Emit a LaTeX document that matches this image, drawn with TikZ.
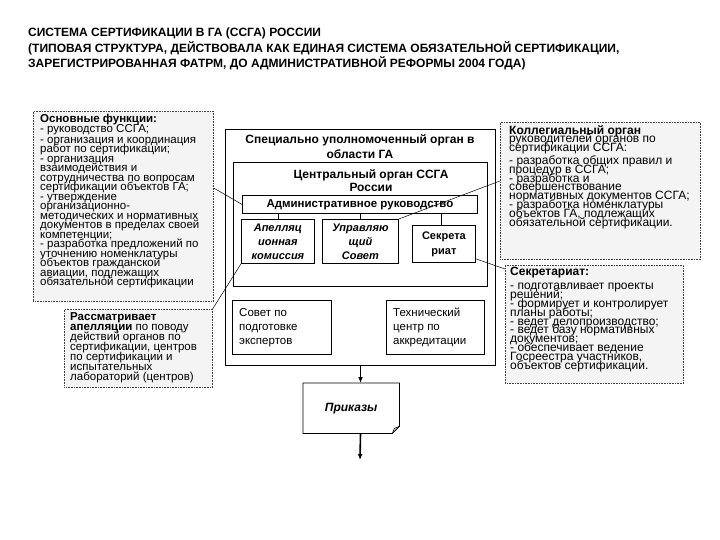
\documentclass[tikz,border=0pt]{standalone}
\usepackage{fontspec}
\setmainfont{Liberation Sans}
\usetikzlibrary{arrows.meta,positioning,calc}

\newcommand{\tightlead}{\lineskiplimit=-50pt\lineskip=0pt}

\begin{document}
\begin{tikzpicture}[
    x=1pt, y=-1pt,
    notebox/.style={rectangle, draw=black!75, densely dotted, line width=0.6pt, fill=gray!9, anchor=north west, inner sep=0pt},
    unitbox/.style={rectangle, draw=black, fill=white, line width=0.8pt, anchor=north west, inner sep=0pt},
    notetext/.style={anchor=north west, align=left, inner sep=0pt, font=\fontsize{11.5}{9.5}\selectfont\tightlead},
    unittext/.style={align=center, inner sep=0pt, font=\bfseries\fontsize{11.5}{15}\selectfont},
    link/.style={draw=black, line width=0.5pt},
    flow/.style={-{Latex[length=6pt,width=5pt]}, line width=1.6pt}
]

\useasboundingbox[fill=white] (0,0) rectangle (720,540);

% Title
\node[anchor=north west, align=left, inner sep=0pt, font=\bfseries\fontsize{12}{15.5}\selectfont] (title) at (28,28)
  {СИСТЕМА СЕРТИФИКАЦИИ В ГА (ССГА) РОССИИ\\
   (ТИПОВАЯ СТРУКТУРА, ДЕЙСТВОВАЛА КАК ЕДИНАЯ СИСТЕМА ОБЯЗАТЕЛЬНОЙ СЕРТИФИКАЦИИ,\\
   ЗАРЕГИСТРИРОВАННАЯ ФАТРМ, ДО АДМИНИСТРАТИВНОЙ РЕФОРМЫ 2004 ГОДА)};

% Left notes
\node[notebox, minimum width=180, minimum height=190] (func) at (33,111) {};
\node[notetext] (functext) at (40,114)
  {\textbf{Основные функции:}\\
   - руководство ССГА;\\[1.5pt]
   - организация и координация\\
   работ по сертификации;\\
   - организация\\
   взаимодействия и\\
   сотрудничества по вопросам\\
   сертификации объектов ГА;\\
   - утверждение\\
   организационно-\\
   методических и нормативных\\
   документов в пределах своей\\
   компетенции;\\
   - разработка предложений по\\
   уточнению номенклатуры\\
   объектов гражданской\\
   авиации, подлежащих\\
   обязательной сертификации};

\node[notebox, minimum width=148, minimum height=78] (appeal) at (64,309) {};
\node[notetext, font=\fontsize{11.5}{10.1}\selectfont\tightlead] (appealtext) at (70,312)
  {\textbf{Рассматривает}\\
   \textbf{апелляции} по поводу\\
   действий органов по\\
   сертификации, центров\\
   по сертификации и\\
   испытательных\\
   лабораторий (центров)};

% Central structure
\node[unitbox, line width=1pt, minimum width=270, minimum height=236] (outer) at (225,129) {};
\node[unittext, font=\bfseries\fontsize{12}{15}\selectfont] (outertext) at (360,147)
  {Специально уполномоченный орган в\\области ГА};

\node[unitbox, minimum width=254, minimum height=124] (central) at (233,162) {};
\node[unittext, font=\bfseries\fontsize{12}{13}\selectfont] (centraltext) at (371,181)
  {Центральный орган ССГА\\России};

\node[unitbox, minimum width=235, minimum height=18] (admin) at (242,195) {};
\node[unittext] at (admin.center) {Административное руководство};

\node[unitbox, minimum width=73, minimum height=44] (appcom) at (241,219) {};
\node[unittext, font=\bfseries\itshape\fontsize{11}{14}\selectfont] at (appcom.center) {Апелляц\\ионная\\комиссия};

\node[unitbox, minimum width=76, minimum height=44] (board) at (322,219) {};
\node[unittext, font=\bfseries\itshape\fontsize{11}{14}\selectfont] at (board.center) {Управляю\\щий\\Совет};

\node[unitbox, minimum width=63, minimum height=37] (secr) at (412,225) {};
\node[unittext, font=\bfseries\fontsize{11}{15}\selectfont] at (secr.center) {Секрета\\риат};

\node[unitbox, minimum width=99, minimum height=54] (experts) at (232,300) {};
\node[anchor=west, align=left, inner sep=0pt, font=\fontsize{11.5}{14}\selectfont] at ([xshift=7pt]experts.west)
  {Совет по\\подготовке\\экспертов};

\node[unitbox, minimum width=98, minimum height=54] (techcentre) at (386,300) {};
\node[anchor=west, align=left, inner sep=0pt, font=\fontsize{11.5}{14}\selectfont] at ([xshift=7pt]techcentre.west)
  {Технический\\центр по\\аккредитации};

% Orders (folded corner)
\node[anchor=north west, minimum width=96, minimum height=50, inner sep=0pt,
      font=\bfseries\itshape\fontsize{12}{14}\selectfont] (orders) at (303,383) {Приказы};
\draw[line width=0.8pt] (orders.north west) -- (orders.north east) -- ([yshift=7pt]orders.south east)
  -- ([xshift=-7pt]orders.south east) -- (orders.south west) -- cycle;
\draw[line width=0.6pt] ([xshift=-7pt]orders.south east) -- ([xshift=-5pt,yshift=5pt]orders.south east)
  -- ([yshift=7pt]orders.south east);
\coordinate (ordersout) at (360,460);

% Right notes
\node[notebox, minimum width=200, minimum height=137] (college) at (500,122) {};
\node[notetext, font=\fontsize{12}{8.8}\selectfont\tightlead] (collegetext) at (509,125)
  {\textbf{Коллегиальный орган}\\
   руководителей органов по\\
   сертификации ССГА:\\[4pt]
   - разработка общих правил и\\
   процедур в ССГА;\\
   - разработка и\\
   совершенствование\\
   нормативных документов ССГА;\\
   - разработка номенклатуры\\
   объектов ГА, подлежащих\\
   обязательной сертификации.};

\node[notebox, minimum width=178, minimum height=118] (secnote) at (505,265) {};
\node[notetext, font=\fontsize{12}{8.9}\selectfont\tightlead] (secnotetext) at (510,267)
  {\textbf{Секретариат:}\\[5pt]
   - подготавливает проекты\\
   решений;\\
   - формирует и контролирует\\
   планы работы;\\
   - ведет делопроизводство;\\
   - ведет базу нормативных\\
   документов;\\
   - обеспечивает ведение\\
   Госреестра участников,\\
   объектов сертификации.};

% Connections
\draw[link] (appcom.north) -- (appcom.north |- admin.south);
\draw[link] (board.north) -- (board.north |- admin.south);
\draw[link] ([xshift=-3pt]secr.north) -- ([xshift=-3pt]secr.north |- admin.south);

\draw[link] ([yshift=-77pt]func.north east) -- (admin.west);
\draw[link] (appeal.north east) -- (appcom.south west);
\draw[link] (board.north east) -- ([yshift=-59pt]college.north west);
\draw[link] ([yshift=4pt]secr.south east) -- ([yshift=-4pt]secnote.north west);

\draw[flow] (outer.south) -- (outer.south |- orders.north);
\draw[flow] (orders.south -| outer.south) -- (ordersout);

\end{tikzpicture}
\end{document}
